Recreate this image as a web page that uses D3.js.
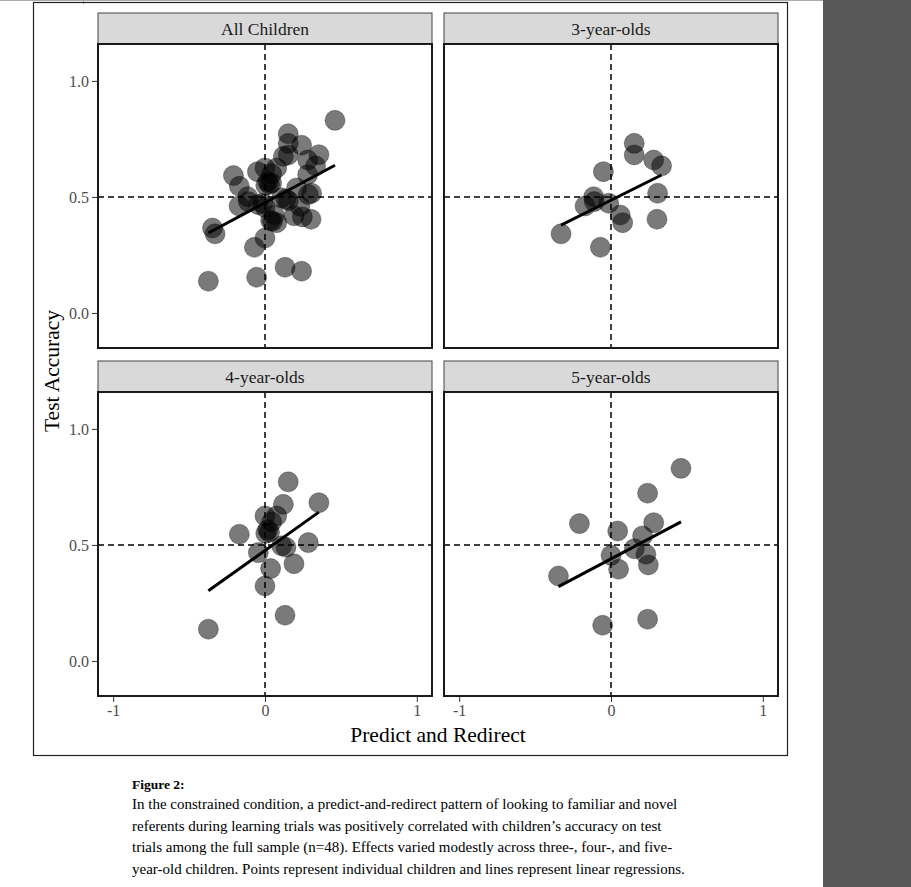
<!DOCTYPE html>
<html>
<head>
<meta charset="utf-8">
<script src="https://cdn.jsdelivr.net/npm/d3@7"></script>
<style>
  body { margin: 0; background: #fff; }
  svg { display: block; font-family: "Liberation Serif", "Times New Roman", serif; }
</style>
</head>
<body>
<svg width="911" height="887"></svg>
<script>
// panel names
var panelNames = ["All Children", "3-year-olds", "4-year-olds", "5-year-olds"];

// [predict and redirect, test accuracy] per child
var threeYear = [
  [0.153, 0.731], [0.153, 0.681], [0.281, 0.659], [0.333, 0.634], [-0.050, 0.609],
  [0.307, 0.516], [-0.114, 0.501], [-0.110, 0.480], [-0.171, 0.461], [-0.015, 0.473],
  [0.061, 0.422], [0.077, 0.389], [0.303, 0.404], [-0.329, 0.341], [-0.070, 0.283]
];
var fourYear = [
  [0.153, 0.772], [0.355, 0.682], [0.121, 0.675], [0.000, 0.625], [0.077, 0.625],
  [0.044, 0.600], [0.018, 0.565], [0.005, 0.550], [0.030, 0.555], [-0.169, 0.546],
  [0.285, 0.510], [0.110, 0.496], [0.138, 0.490], [-0.044, 0.467], [0.191, 0.419],
  [0.037, 0.398], [0.000, 0.323], [0.132, 0.197], [-0.373, 0.137]
];
var fiveYear = [
  [0.461, 0.830], [0.241, 0.723], [-0.208, 0.592], [0.281, 0.596], [0.044, 0.560],
  [0.208, 0.539], [0.154, 0.484], [0.230, 0.460], [0.000, 0.455], [0.246, 0.414],
  [0.050, 0.395], [-0.346, 0.366], [0.241, 0.180], [-0.055, 0.154]
];

// linear fits [intercept, slope]
var fitIntercepts = [0.475, 0.486, 0.476, 0.440];
var fitSlopes = [0.350, 0.326, 0.466, 0.345];

var xTicks = [-1, 0, 1];
var yTicks = [0.0, 0.5, 1.0];

var captionTitle = "Figure 2:";
var captionLines = [
  "In the constrained condition, a predict-and-redirect pattern of looking to familiar and novel",
  "referents during learning trials was positively correlated with children\u2019s accuracy on test",
  "trials among the full sample (n=48). Effects varied modestly across three-, four-, and five-",
  "year-old children. Points represent individual children and lines represent linear regressions."
];

var panelData = [threeYear.concat(fourYear, fiveYear), threeYear, fourYear, fiveYear];

var svg = d3.select("svg");

// page furniture
svg.append("rect").attr("x", 823).attr("y", 0).attr("width", 88).attr("height", 887).attr("fill", "#585858");
svg.append("line").attr("x1", 0).attr("x2", 823).attr("y1", 0.5).attr("y2", 0.5).attr("stroke", "#aaa");
svg.append("line").attr("x1", 83.5).attr("x2", 83.5).attr("y1", 0).attr("y2", 4).attr("stroke", "#aaa");
svg.append("rect").attr("x", 33.5).attr("y", 2.5).attr("width", 754).attr("height", 753)
  .attr("fill", "none").attr("stroke", "#222").attr("stroke-width", 1.2);

var cols = [98, 444], rows = [13, 361],
  panelW = 334, stripH = 31, plotH = 304;

var xScales = cols.map(function(c) {
  return d3.scaleLinear().domain([-1.1, 1.1]).range([c, c + panelW]);
});
var yScales = rows.map(function(r) {
  return d3.scaleLinear().domain([-0.151, 1.159]).range([r + stripH + plotH, r + stripH]);
});

panelNames.forEach(function(name, i) {
  var col = i % 2, row = Math.floor(i / 2);
  var x = xScales[col], y = yScales[row];
  var top = rows[row], left = cols[col];
  var g = svg.append("g");

  // strip
  g.append("rect")
    .attr("x", left).attr("y", top).attr("width", panelW).attr("height", stripH)
    .attr("fill", "#d9d9d9").attr("stroke", "#444").attr("stroke-width", 1);
  g.append("text")
    .attr("x", left + panelW / 2).attr("y", top + stripH / 2)
    .attr("dy", "0.35em").attr("text-anchor", "middle")
    .attr("font-size", 17.5).attr("fill", "#1a1a1a")
    .text(name);

  // plot background
  g.append("rect")
    .attr("x", left).attr("y", top + stripH).attr("width", panelW).attr("height", plotH)
    .attr("fill", "#fff");

  // reference lines
  g.append("line")
    .attr("x1", x(0)).attr("x2", x(0)).attr("y1", top + stripH).attr("y2", top + stripH + plotH)
    .attr("stroke", "#000").attr("stroke-width", 1.5).attr("stroke-dasharray", "6,4");
  g.append("line")
    .attr("x1", left).attr("x2", left + panelW).attr("y1", y(0.5)).attr("y2", y(0.5))
    .attr("stroke", "#000").attr("stroke-width", 1.5).attr("stroke-dasharray", "6,4");

  // points
  g.selectAll("circle")
    .data(panelData[i])
    .enter().append("circle")
    .attr("cx", function(d) { return x(d[0]); })
    .attr("cy", function(d) { return y(d[1]); })
    .attr("r", 10)
    .attr("fill", "#000").attr("fill-opacity", 0.52)
    .attr("stroke", "#000").attr("stroke-opacity", 0.3);

  // regression line over the data range
  var ext = d3.extent(panelData[i], function(d) { return d[0]; });
  var fit = function(v) { return fitIntercepts[i] + fitSlopes[i] * v; };
  g.append("path")
    .datum(ext.map(function(v) { return [v, fit(v)]; }))
    .attr("d", d3.line().x(function(d) { return x(d[0]); }).y(function(d) { return y(d[1]); }))
    .attr("fill", "none").attr("stroke", "#000").attr("stroke-width", 3);

  // panel border
  g.append("rect")
    .attr("x", left).attr("y", top + stripH).attr("width", panelW).attr("height", plotH)
    .attr("fill", "none").attr("stroke", "#1a1a1a").attr("stroke-width", 2);

  // axes
  if (col === 0) {
    var ya = g.append("g").attr("transform", "translate(" + (left - 1) + ",0)")
      .call(d3.axisLeft(y).tickValues(yTicks).tickFormat(d3.format(".1f")).tickSize(5).tickPadding(3));
    ya.select(".domain").remove();
    ya.selectAll("line").attr("stroke", "#333");
    ya.selectAll("text").attr("font-size", 16).attr("fill", "#4d4d4d").attr("font-family", "Liberation Serif");
  }
  if (row === 1) {
    var xa = g.append("g").attr("transform", "translate(0," + (top + stripH + plotH + 1) + ")")
      .call(d3.axisBottom(x).tickValues(xTicks).tickFormat(function(d) { return String(d); }).tickSize(5).tickPadding(3));
    xa.select(".domain").remove();
    xa.selectAll("line").attr("stroke", "#333");
    xa.selectAll("text").attr("font-size", 16).attr("fill", "#4d4d4d").attr("font-family", "Liberation Serif");
  }
});

// axis titles
svg.append("text")
  .attr("transform", "translate(59,371) rotate(-90)")
  .attr("text-anchor", "middle").attr("font-size", 21.5).attr("fill", "#000")
  .text("Test Accuracy");
svg.append("text")
  .attr("x", 438).attr("y", 742)
  .attr("text-anchor", "middle").attr("font-size", 21.5).attr("fill", "#000")
  .text("Predict and Redirect");

// caption
svg.append("text")
  .attr("x", 132).attr("y", 789)
  .attr("font-size", 13.5).attr("font-weight", "bold")
  .text(captionTitle);
svg.append("g").selectAll("text")
  .data(captionLines)
  .enter().append("text")
  .attr("x", 132)
  .attr("y", function(d, i) { return 809 + i * 21.5; })
  .attr("font-size", 15)
  .text(function(d) { return d; });
</script>
</body>
</html>
